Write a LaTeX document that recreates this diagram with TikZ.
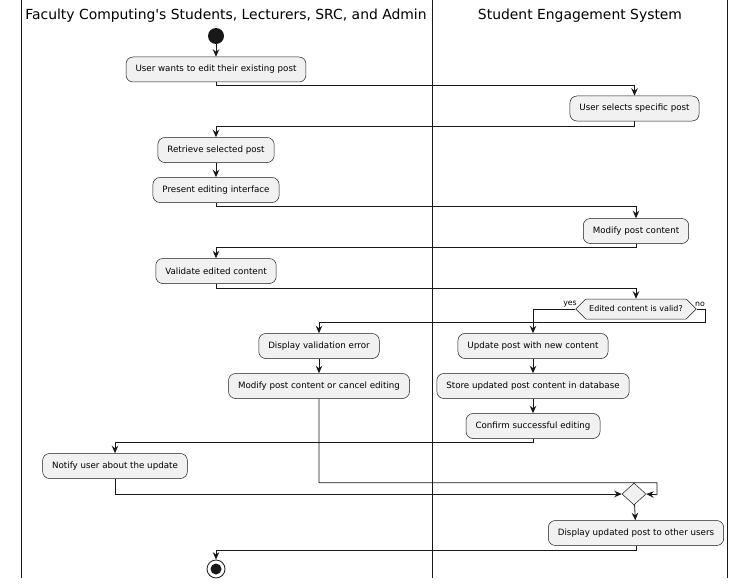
\documentclass[tikz,border=0pt]{standalone}
\usepackage{fontspec}
\setmainfont{DejaVu Sans}[Ligatures=TeXOff]
\usetikzlibrary{arrows.meta,shapes.geometric,shapes.symbols}
\definecolor{BoxClr}{HTML}{F1F1F1}
\definecolor{LineClr}{HTML}{181818}

\begin{document}
\begin{tikzpicture}[x=1pt,y=-1pt,
  act/.style={draw=LineClr,fill=BoxClr,rounded corners=7pt,line width=0.5pt,
    minimum height=25pt,inner xsep=9.5pt,font=\fontsize{8.7}{10}\selectfont},
  flow/.style={draw=LineClr,line width=0.8pt,-{Stealth[length=7.5pt,width=6.5pt,inset=2.5pt]}},
  lane/.style={draw=LineClr,line width=0.8pt},
  lanetitle/.style={font=\fontsize{13.9}{16}\selectfont,inner sep=0pt},
  choice/.style={draw=LineClr,fill=BoxClr,line width=0.5pt,signal,signal to=west and east,
    signal pointer angle=90,minimum height=20pt,inner xsep=3.5pt,font=\fontsize{8}{9}\selectfont},
  merger/.style={draw=LineClr,fill=BoxClr,line width=0.5pt,diamond,inner sep=0pt,
    minimum width=24pt,minimum height=22pt},
  guard/.style={font=\fontsize{7.8}{9}\selectfont,inner sep=0pt}
]
\useasboundingbox (0,0) rectangle (738,583);

\draw[lane] (21,0) -- (21,578);
\draw[lane] (432,0) -- (432,578);
\draw[lane] (727,0) -- (727,578);
\node[lanetitle] (laneUser) at (226,16) {Faculty Computing's Students, Lecturers, SRC, and Admin};
\node[lanetitle] (laneSys) at (580,16) {Student Engagement System};

\node[circle,fill=LineClr,minimum size=16pt,inner sep=0pt] (start) at (216,36) {};
\node[act] (wantEdit) at (216,69.5) {User wants to edit their existing post};
\node[act] (selectPost) at (634.5,108.5) {User selects specific post};
\node[act] (retrievePost) at (216,150) {Retrieve selected post};
\node[act] (presentUI) at (216,190) {Present editing interface};
\node[act] (modifyPost) at (636,231) {Modify post content};
\node[act] (validate) at (216,271) {Validate edited content};
\node[choice] (isValid) at (636,309) {Edited content is valid?};
\node[guard,anchor=south east] (yesLbl) at (577,307) {yes};
\node[guard,anchor=south west] (noLbl) at (695,307) {no};
\node[act] (showError) at (319,346) {Display validation error};
\node[act] (modifyOrCancel) at (319,386) {Modify post content or cancel editing};
\node[act] (updatePost) at (533,346) {Update post with new content};
\node[act] (storePost) at (533,386) {Store updated post content in database};
\node[act] (confirmEdit) at (533,426) {Confirm successful editing};
\node[act] (notifyUser) at (115,466) {Notify user about the update};
\node[merger] (merge) at (634,494) {};
\node[act] (showPost) at (636,533) {Display updated post to other users};
\node[circle,draw=LineClr,line width=0.8pt,minimum size=18pt,inner sep=0pt] (stop) at (216,569) {};
\fill[LineClr] (stop.center) circle (5.5pt);

\draw[flow] (start) -- (wantEdit);
\draw[flow] (wantEdit.south) -- ++(0,3) -| (selectPost.north);
\draw[flow] (selectPost.south) -- ++(0,5) -| (retrievePost.north);
\draw[flow] (retrievePost) -- (presentUI);
\draw[flow] (presentUI.south) -- ++(0,4) -| (modifyPost.north);
\draw[flow] (modifyPost.south) -- ++(0,4) -| (validate.north);
\draw[flow] (validate.south) -- ++(0,5) -| (isValid.north);
\draw[flow] (isValid.west) -| (updatePost.north);
\draw[flow] (isValid.east) -- ++(9,0) -- ++(0,13) -| (showError.north);
\draw[flow] (showError) -- (modifyOrCancel);
\draw[flow] (updatePost) -- (storePost);
\draw[flow] (storePost) -- (confirmEdit);
\draw[flow] (confirmEdit.south) -- ++(0,4) -| (notifyUser.north);
\draw[flow] (modifyOrCancel.south) -- ++(0,84) -- ++(338,0) -- ++(0,12) -- (merge.east);
\draw[flow] (notifyUser.south) |- (merge.west);
\draw[flow] (merge) -- (showPost);
\draw[flow] (showPost.south) -- ++(0,5) -| (stop.north);
\end{tikzpicture}
\end{document}
